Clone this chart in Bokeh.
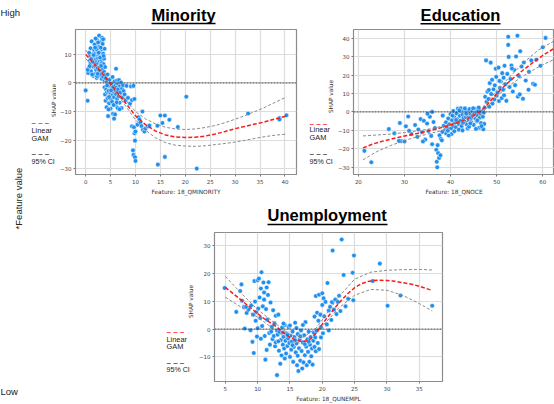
from math import pi
from bokeh.plotting import figure
from bokeh.models import Label, BoxAnnotation, Span, FixedTicker, Range1d
from bokeh.layouts import row, column
from bokeh.embed import file_html
from bokeh.resources import INLINE

# ---------------- data ----------------
# Minority panel
min_pts = [
    (0.5,3.5),(0.6,5.2),(0.8,7.8),(0.9,9.5),(1.0,12.2),(1.1,4.1),(1.2,6.3),(1.3,8.8),(1.4,10.1),(1.5,2.5),
    (1.5,5.7),(1.6,7.1),(1.7,9.0),(1.7,11.6),(1.8,3.1),(1.9,6.0),(2.0,8.2),(2.0,10.5),(2.1,13.0),(2.1,4.6),
    (2.2,1.8),(2.2,7.4),(2.3,9.4),(2.3,15.0),(2.4,5.3),(2.4,11.2),(2.5,6.8),(2.5,8.7),(2.6,3.6),(2.6,12.6),
    (2.7,16.6),(2.7,9.9),(2.8,5.8),(2.8,7.7),(2.9,2.7),(2.9,10.8),(3.0,14.3),(3.0,6.4),(3.1,8.1),(3.1,4.2),
    (3.2,11.9),(3.2,1.5),(3.3,7.0),(3.3,9.2),(3.4,5.0),(3.4,13.7),(3.5,2.1),(3.5,10.3),(3.6,6.6),(3.6,15.4),
    (3.7,3.9),(3.7,8.5),(3.8,0.8),(3.8,12.0),(3.9,5.6),(4.0,2.9),(1.2,14.6),(1.8,13.5),(2.0,15.6),(2.5,14.2),
    (3.3,15.8),(0.7,10.6),(1.0,6.9),(1.3,3.0),(2.3,2.4),(2.7,4.4),(3.0,12.4),(0.4,4.6),(3.5,15.3),(1.6,9.8),
    (2.2,11.8),(2.9,8.9),(1.4,7.5),(0.8,5.9),(3.6,9.5),(2.6,10.6),(1.9,12.4),(3.1,6.0),(2.4,3.2),(1.1,8.4),
    (3.8,-1.5),(3.9,-4.0),(4.0,-6.2),(4.1,-2.3),(4.2,0.5),(4.2,-8.5),(4.3,-3.2),(4.4,-5.3),(4.5,-0.6),(4.5,-11.6),
    (4.6,-2.8),(4.7,-7.1),(4.8,-4.4),(4.8,1.2),(4.9,-1.2),(5.0,-3.7),(5.0,-9.0),(5.1,-5.8),(5.2,-0.2),(5.2,-2.0),
    (5.3,-6.6),(5.4,2.1),(5.4,-4.2),(5.5,-10.8),(5.5,-1.4),(5.6,-3.1),(5.7,-12.5),(5.7,-5.0),(5.8,0.6),(5.9,-2.5),
    (6.0,-7.8),(6.0,-0.9),(6.1,5.0),(6.1,-3.9),(6.2,-1.6),(6.3,-5.5),(6.3,0.9),(6.4,-8.8),(6.5,-2.2),(6.5,-0.3),
    (6.6,-4.6),(6.7,1.0),(6.8,-6.9),(6.9,-1.0),(7.0,-3.3),(7.1,0.2),(7.2,-8.8),(7.3,-1.9),(7.4,-5.2),(7.5,-0.8),
    (7.6,-2.8),(7.8,-4.0),(8.0,-6.0),(8.2,-1.0),(8.5,-5.2),(8.9,-7.2),(9.1,-1.2),(9.3,-6.0),(9.6,-1.0),(9.8,-5.6),
    (4.4,3.0),(4.0,1.7),(4.6,-9.3),(5.9,-11.0),(6.8,-9.2),(5.1,-2.6),(4.7,-4.9),(6.2,-6.8),(5.6,-7.7),(4.3,-0.9),
    (0.0,-2.6),(0.4,-6.2),(9.3,-15.2),(9.5,-23.6),(9.7,-15.5),(9.8,-17.6),(9.9,-20.2),(9.6,-25.2),(9.9,-26.0),(10.0,-27.3),
    (10.0,-17.0),(10.4,-14.6),(10.6,-12.0),(10.8,-12.8),(11.0,-13.8),(11.2,-15.1),(11.4,-10.0),(11.5,-16.4),(11.8,-17.0),(12.0,-16.0),
    (12.5,-15.2),(12.8,-14.9),(14.5,-28.6),(14.4,-15.0),(15.0,-11.4),(15.4,-14.0),(15.9,-11.4),(15.9,-25.9),(16.8,-12.9),(18.5,-15.4),
    (20.2,-4.8),(22.3,-30.0),(32.6,-10.7),(38.9,-12.3),(38.9,-12.8),(40.3,-11.3),
]
min_x = [p[0] for p in min_pts]
min_y = [p[1] for p in min_pts]
min_gam_x = [0, 2, 4, 6, 8, 10, 12, 14, 16, 18, 20, 22, 24, 26, 28, 30, 32, 34, 36, 38, 40.3]
min_gam_y = [10.0, 6.2, 2.0, -2.5, -7.0, -11.5, -14.6, -16.8, -18.2, -18.9, -19.1, -19.0, -18.6, -17.9, -17.0, -16.0, -15.2, -14.4, -13.6, -12.6, -11.6]
min_up_y = [11.5, 7.0, 2.6, -1.8, -6.0, -10.0, -12.6, -14.3, -15.5, -16.1, -16.3, -16.1, -15.6, -14.9, -13.9, -12.7, -11.4, -10.0, -8.5, -6.8, -4.9]
min_lo_y = [8.5, 5.3, 1.4, -3.2, -8.0, -12.9, -16.5, -19.2, -20.9, -21.8, -22.1, -22.2, -22.0, -21.6, -21.2, -20.7, -20.1, -19.4, -18.8, -18.3, -17.9]
min_xticks = [0, 5, 10, 15, 20, 25, 30, 35, 40]
min_yticks = [-30, -20, -10, 0, 10]

# Education panel
edu_pts = [
    (38.5,-7.5),(38.8,-9.8),(39.0,-5.6),(39.2,-8.2),(39.5,-3.6),(39.7,-6.7),(40.0,-1.2),(40.1,-9.0),(40.3,-4.5),(40.5,-7.2),
    (40.6,0.5),(40.8,-2.7),(41.0,-5.8),(41.1,-8.3),(41.3,-0.8),(41.5,-3.9),(41.6,1.8),(41.8,-6.3),(42.0,-2.1),(42.1,-4.8),
    (42.3,0.2),(42.4,-7.7),(42.6,-1.5),(42.8,-3.3),(42.9,1.2),(43.0,-5.2),(43.2,-0.4),(43.3,-2.8),(43.5,-6.8),(43.6,0.9),
    (43.8,-1.9),(43.9,-4.1),(44.1,1.5),(44.2,-0.9),(44.4,-3.0),(44.5,-5.6),(44.7,0.4),(44.8,-2.3),(45.0,-7.0),(45.1,-1.2),
    (45.3,1.7),(45.4,-3.7),(45.6,-0.3),(45.7,-5.1),(45.9,-2.0),(46.0,0.8),(46.2,-8.6),(46.3,-3.2),(46.5,-1.0),(46.6,-6.0),
    (46.8,0.2),(46.9,-9.0),(47.0,-2.6),(47.2,-0.4),(47.4,2.3),(38.3,-2.0),(39.0,-11.6),(40.2,-12.0),(41.8,-9.6),(43.7,-8.9),
    (45.5,-9.2),(47.1,-9.4),(47.3,-6.5),(42.6,-10.0),(44.0,-8.0),(40.8,-10.5),(39.6,-12.8),(42.2,2.0),(43.1,1.9),(46.1,2.4),
    (44.9,2.0),(41.2,-4.4),(42.7,-5.9),(44.3,-6.2),(45.8,-4.6),(46.7,-7.7),(43.4,-1.0),(40.4,-2.0),(39.4,-10.2),(41.9,0.9),
    (21.3,-21.1),(22.8,-27.3),(26.6,-9.3),(27.8,-11.6),(29.0,-6.0),(29.3,-15.8),(30.0,-16.0),(30.3,-7.8),(30.8,-2.5),(31.5,-12.0),
    (32.3,-7.1),(32.8,-13.5),(33.5,-3.9),(33.8,-11.0),(34.2,-4.8),(34.5,-15.0),(34.9,-6.3),(35.2,-10.3),(35.5,-2.6),(35.8,-13.0),
    (36.0,0.0),(36.0,-17.5),(36.3,-5.5),(36.6,-8.7),(36.9,-20.5),(37.0,-27.0),(37.1,-30.0),(37.2,-18.0),(37.3,-22.3),(37.5,-24.9),
    (37.6,-12.7),(37.8,-23.5),(37.9,-14.6),(38.1,-15.4),(38.2,-10.8),(34.0,-16.0),(33.0,-9.5),(35.0,-1.0),(31.0,-10.2),(28.8,-15.7),
    (47.5,8.2),(47.7,27.9),(47.8,5.5),(48.0,11.0),(48.2,7.0),(48.4,2.8),(48.5,15.6),(48.7,26.7),(48.8,9.7),(49.0,17.4),
    (49.1,4.5),(49.3,12.3),(49.5,6.8),(49.6,14.4),(49.8,23.4),(50.0,8.8),(50.2,10.4),(50.4,24.0),(50.5,5.9),(50.7,13.0),
    (50.9,16.5),(51.1,7.5),(51.2,21.0),(51.4,12.0),(51.6,9.0),(51.7,25.0),(51.9,15.0),(52.1,6.0),(52.3,20.6),(52.5,40.7),
    (52.5,36.3),(52.6,29.8),(52.8,13.5),(53.0,17.8),(53.2,25.1),(53.5,11.0),(53.8,22.8),(54.0,14.5),(54.2,30.0),(54.5,41.3),
    (54.6,8.3),(54.8,19.5),(55.0,9.5),(55.1,32.9),(55.4,24.6),(55.7,7.1),(55.9,26.8),(56.3,17.0),(56.9,12.0),(57.0,21.7),
    (57.5,27.9),(57.9,15.2),(58.3,14.7),(58.6,28.3),(59.5,25.0),(60.0,35.0),(60.6,40.1),(48.3,11.9),(49.9,19.0),(50.6,16.8),
    (51.5,18.5),(53.3,23.5),
]
edu_x = [p[0] for p in edu_pts]
edu_y = [p[1] for p in edu_pts]
edu_gam_x = [21, 23, 25, 27, 29, 31, 33, 35, 37, 39, 41, 43, 45, 46, 47, 48, 49, 50, 52, 54, 56, 58, 60, 62.5]
edu_gam_y = [-19.5, -17.5, -16.0, -14.8, -13.6, -12.6, -11.5, -10.4, -9.2, -7.8, -6.2, -4.3, -2.0, -0.5, 1.5, 4.0, 7.0, 10.0, 14.8, 19.2, 23.2, 27.0, 30.6, 34.5]
edu_ci_x = [21, 24, 27, 30, 33, 36, 39, 42, 45, 47, 50, 53, 56, 59, 62.5]
edu_up_y = [-13.0, -12.5, -12.0, -11.2, -10.2, -9.0, -7.3, -4.7, -1.0, 2.5, 11.5, 19.5, 27.0, 33.5, 38.5]
edu_lo_y = [-26.0, -21.5, -18.2, -15.5, -13.3, -11.4, -9.5, -7.2, -3.5, -0.3, 8.5, 14.8, 19.8, 24.3, 28.5]
edu_xticks = [20, 30, 40, 50, 60]
edu_yticks = [-30, -20, -10, 0, 10, 20, 30, 40]

# Unemployment panel
une_pts = [
    (4.9,14.8),(6.7,6.2),(7.3,13.7),(7.5,16.1),(7.6,10.2),(7.9,8.0),(8.0,0.2),(8.3,5.8),(8.6,7.1),(8.9,-0.4),
    (9.0,8.5),(9.2,-4.6),(9.4,-8.6),(9.5,17.3),(9.6,9.9),(9.8,6.1),(10.0,17.6),(10.2,18.2),(10.3,11.4),(10.4,4.0),
    (10.5,14.6),(10.6,20.5),(10.7,1.1),(10.8,8.2),(10.9,16.8),(11.0,13.2),(11.1,-2.5),(11.2,-11.0),(11.3,7.2),(11.4,15.0),
    (11.5,3.4),(11.6,12.3),(11.7,16.9),(11.8,-1.4),(11.9,-5.6),(12.0,9.6),(12.2,0.8),(12.3,-3.6),(12.4,6.8),(12.6,2.1),
    (12.7,-6.2),(12.8,4.8),(13.0,-16.6),(13.0,-0.6),(13.2,5.2),(10.0,0.3),(9.9,-2.7),(10.5,-3.5),(11.4,-7.5),(8.2,8.0),
    (9.3,5.2),(10.1,7.4),(11.0,10.6),(12.1,-0.9),(9.7,3.0),
    (12.5,-2.5),(12.8,-4.8),(13.1,-2.0),(13.3,-7.8),(13.4,-1.0),(13.6,-3.9),(13.7,-9.5),(13.8,0.6),(13.9,-5.6),(14.0,-2.8),
    (14.1,-7.0),(14.2,1.5),(14.3,-4.2),(14.4,-8.8),(14.5,-1.6),(14.6,-6.1),(14.7,-3.3),(14.8,0.8),(14.9,-5.0),(15.0,-10.0),
    (15.1,-2.4),(15.2,-7.4),(15.3,-4.5),(15.4,-0.9),(15.5,-11.8),(15.6,-6.4),(15.7,-3.0),(15.8,2.3),(15.9,-8.4),(16.0,-5.2),
    (16.1,-13.0),(16.2,-1.8),(16.3,-15.1),(16.4,-6.9),(16.5,-3.7),(16.6,-11.4),(16.7,-0.5),(16.8,-7.9),(16.9,-14.2),(17.0,-4.8),
    (17.1,-12.0),(17.2,-2.2),(17.3,-9.4),(17.4,2.5),(17.5,-6.3),(17.6,-13.0),(17.7,-3.7),(17.8,-8.2),(17.9,-0.9),(18.0,-11.8),
    (18.1,-5.6),(18.2,-2.9),(18.3,-9.8),(18.4,-7.0),(18.5,-12.8),(18.6,-4.2),(18.7,-1.3),(18.8,-6.4),(18.9,-3.0),(19.0,-8.0),
    (19.1,-0.6),(19.3,-5.0),(19.5,-7.2),(13.5,-12.5),(14.0,2.0),(15.0,1.3),(16.0,0.4),(17.0,1.5),(13.2,-4.4),(14.6,-2.1),
    (15.4,-5.8),(16.2,-9.6),(17.3,-5.4),(14.2,-10.6),(15.8,-4.0),(16.6,-2.6),(13.9,-1.2),(17.9,-4.6),
    (18.8,4.5),(19.0,11.9),(19.2,5.9),(19.4,3.0),(19.5,12.4),(19.7,5.2),(19.8,0.7),(20.0,8.7),(20.0,12.9),(20.2,11.1),
    (20.3,4.6),(20.5,9.8),(20.7,1.7),(20.8,16.6),(21.0,6.7),(21.2,8.0),(21.4,3.3),(21.5,9.7),(21.6,28.3),(21.8,7.0),
    (22.0,10.6),(22.2,5.4),(22.4,9.8),(22.6,12.0),(22.8,6.5),(23.0,32.3),(23.3,19.5),(23.6,8.2),(24.0,10.9),(24.7,20.3),
    (24.8,10.4),(24.9,26.5),(27.8,17.3),(28.9,23.6),(30.1,8.4),(32.1,12.1),(37.0,8.4),(19.8,-3.0),(20.1,-1.5),(21.0,-0.5),
]
une_x = [p[0] for p in une_pts]
une_y = [p[1] for p in une_pts]
une_gam_x = [5, 7, 9, 10, 11, 12, 13, 14, 15, 16, 17, 18, 19, 20, 21, 22, 23, 24, 25, 26, 27, 28, 29, 30, 31, 32, 34, 36, 37]
une_gam_y = [15.0, 11.3, 7.5, 5.6, 3.8, 2.2, 0.7, -1.3, -3.0, -4.1, -4.5, -3.9, -1.6, 1.8, 4.8, 7.8, 10.5, 12.9, 14.9, 16.3, 17.1, 17.5, 17.6, 17.5, 17.3, 16.9, 16.1, 14.7, 13.9]
une_ci_x = [5, 7.5, 10, 12.5, 15, 17, 19, 20, 22.5, 25, 27.5, 30, 32.5, 35, 37]
une_up_y = [19.0, 12.8, 7.0, 2.5, -2.0, -3.0, 0.2, 3.3, 11.5, 18.0, 20.5, 21.2, 21.4, 21.5, 21.3]
une_lo_y = [11.5, 7.8, 4.3, 0.0, -4.3, -5.3, -1.8, 1.0, 7.5, 12.2, 14.3, 14.0, 12.1, 9.2, 6.5]
une_xticks = [5, 10, 15, 20, 25, 30, 35]
une_yticks = [-10, 0, 10, 20, 30]

# ---------------- styling helpers ----------------
PT = "#1e8ff0"
RED = "#ff1a1a"
FONT = "Liberation Sans"


def make_panel(w, h, bl, br, bt, bb, xr, yr, xt, yt, xlabel):
    p = figure(width=w, height=h, x_range=Range1d(*xr), y_range=Range1d(*yr),
               output_backend="svg", toolbar_location=None,
               min_border_left=bl, min_border_right=br, min_border_top=bt, min_border_bottom=bb)
    p.background_fill_color = "white"
    p.border_fill_color = "white"
    p.outline_line_color = "#8c8c8c"
    p.outline_line_width = 1.2
    p.grid.grid_line_color = "#dcdcdc"
    p.grid.grid_line_width = 1.2
    p.xaxis.ticker = FixedTicker(ticks=xt)
    p.yaxis.ticker = FixedTicker(ticks=yt)
    p.xaxis.major_label_overrides = {t: str(t).replace("-", "\u2212") for t in xt}
    p.yaxis.major_label_overrides = {t: str(t).replace("-", "\u2212") for t in yt}
    p.xaxis.axis_label = xlabel
    for ax in (p.xaxis, p.yaxis):
        ax.axis_line_color = None
        ax.major_tick_in = 0
        ax.major_tick_out = 2
        ax.minor_tick_out = 0
        ax.minor_tick_in = 0
        ax.major_tick_line_color = "#777777"
        ax.major_label_text_font_size = "5.5px"
        ax.major_label_text_color = "#444444"
        ax.major_label_standoff = 2
        ax.axis_label_text_font_size = "5.8px"
        ax.axis_label_text_font_style = "normal"
        ax.axis_label_text_color = "#333333"
        ax.axis_label_standoff = 2
        ax.axis_label_text_font = "DejaVu Sans"
        ax.major_label_text_font = "DejaVu Sans"
    return p


def blank(w, h):
    b = figure(width=w, height=h, x_range=Range1d(0, 1), y_range=Range1d(0, 1),
               output_backend="svg", toolbar_location=None,
               min_border_left=0, min_border_right=0, min_border_top=0, min_border_bottom=0)
    b.axis.visible = False
    b.grid.visible = False
    b.outline_line_color = None
    b.border_fill_color = "white"
    b.background_fill_color = "white"
    return b


def lab(p, x, y, text, size, color="#222222", bold=False, align="left", angle=0,
        base="middle", font=FONT):
    p.add_layout(Label(x=x, y=y, x_units="screen", y_units="screen", text=text,
                       text_font_size=size, text_color=color, text_align=align,
                       text_baseline=base, angle=angle, text_font=font,
                       text_font_style="bold" if bold else "normal"))


def underline(p, x0, x1, y):
    p.add_layout(BoxAnnotation(left=x0, right=x1, bottom=y - 0.8, top=y + 0.8,
                               left_units="screen", right_units="screen",
                               bottom_units="screen", top_units="screen",
                               fill_color="black", fill_alpha=1.0, line_alpha=0))


def title(p, x, y, text, ux0, ux1, uy):
    lab(p, x, y, text, "16.5px", color="black", bold=True, align="center")
    underline(p, ux0, ux1, uy)


def legend_block(p, x, ys, sx, sy):
    # positions are relative to the bottom of the neighbouring plot frame
    lab(p, sx, sy, "SHAP value", "5.8px", color="#333333", align="center", angle=pi / 2,
        font="DejaVu Sans")
    lab(p, x, ys[0], "\u2013 \u2013 \u2013", "8px", color=RED, bold=True)
    lab(p, x, ys[1], "Linear", "7.4px")
    lab(p, x, ys[2], "GAM", "7.4px")
    lab(p, x, ys[3], "\u2013 \u2013 \u2013", "8px", color="#444444", bold=True)
    lab(p, x, ys[4], "95% CI", "7.1px")


def fill_panel(p, xs, ys, gx, gy, cx, uy, ly):
    p.add_layout(Span(location=0, dimension="width", line_color="#333333",
                      line_dash="2 1", line_width=0.9))
    p.scatter(xs, ys, size=4.6, fill_color=PT, line_color="white", line_width=0.5)
    p.line(cx, uy, line_color="#8a8a8a", line_dash="3 2", line_width=1.0)
    p.line(cx, ly, line_color="#8a8a8a", line_dash="3 2", line_width=1.0)
    p.line(gx, gy, line_color=RED, line_dash="4 2", line_width=1.5)


# ---------------- panels ----------------
f1 = make_panel(244, 172, 16, 4, 3, 22, (-2.04, 42.32), (-32.07, 18.75),
                min_xticks, min_yticks, "Feature: 18_QMINORITY")
fill_panel(f1, min_x, min_y, min_gam_x, min_gam_y, min_gam_x, min_up_y, min_lo_y)

f2 = make_panel(220, 172, 14, 0, 1, 24, (18.94, 62.54), (-33.9, 44.65),
                edu_xticks, edu_yticks, "Feature: 18_QNOCE")
fill_panel(f2, edu_x, edu_y, edu_gam_x, edu_gam_y, edu_ci_x, edu_up_y, edu_lo_y)

f3 = make_panel(251, 174, 14, 4, 2, 19, (3.33, 38.59), (-18.88, 34.8),
                une_xticks, une_yticks, "Feature: 18_QUNEMPL")
fill_panel(f3, une_x, une_y, une_gam_x, une_gam_y, une_ci_x, une_up_y, une_lo_y)

# titles of the top row
tband = blank(528, 26)
title(tband, 157, 11.5, "Minority", 125, 189, 3)
title(tband, 434, 11.3, "Education", 394, 474, 2.7)

# legends / y-axis titles left of each panel
leg1 = blank(30, 172)
legend_block(leg1, 5, [52, 44, 36, 21, 13], 27, 74)
leg2 = blank(34, 172)
legend_block(leg2, 9, [51, 45, 37, 21, 13], 30, 78)

tband3 = blank(528, 32)
title(tband3, 300.7, 15.3, "Unemployment", 241, 361, 6)
leg3 = blank(169, 174)
legend_block(leg3, 140, [50, 42, 35, 19, 12], 164, 80)

# left strip with colour-scale texts
strip = blank(26, 404)
lab(strip, 0, 392, "High", "9.5px")
lab(strip, 18, 206, "*Feature value", "9.5px", align="center", angle=pi / 2)
lab(strip, 0, 13, "Low", "9.5px")

layout = row(strip, column(tband, row(leg1, f1, leg2, f2), tband3, row(leg3, f3)))

open("out.html", "w").write(file_html(layout, INLINE))
